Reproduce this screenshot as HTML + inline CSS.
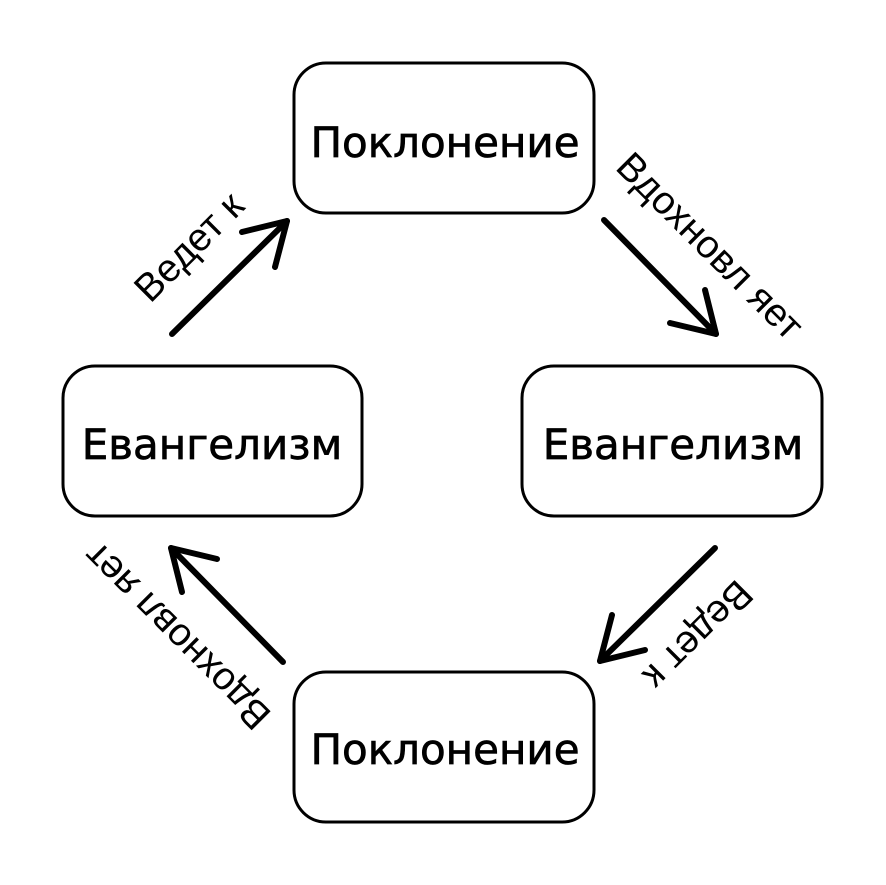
<!DOCTYPE html>
<html><head><meta charset="utf-8"><style>
html,body{margin:0;padding:0;background:#fff;}
svg{display:block;}
text{fill:#000;}
</style></head><body>
<svg width="886" height="885" viewBox="0 0 886 885" xmlns="http://www.w3.org/2000/svg">
<g fill="#fff" stroke="#000" stroke-width="3">
<rect x="294" y="63" width="300" height="150" rx="32"/>
<rect x="522" y="366" width="300" height="150" rx="32"/>
<rect x="63" y="366" width="299" height="150" rx="32"/>
<rect x="294" y="672" width="300" height="150" rx="32"/>
</g>
<g font-size="42" text-anchor="middle" font-family="DejaVu Sans, sans-serif" stroke="#000" stroke-width="0.7">
<text x="445" y="157">Поклонение</text>
<text x="673" y="459">Евангелизм</text>
<text x="212" y="459">Евангелизм</text>
<text x="445" y="764">Поклонение</text>
</g>
<g id="q1">
<g fill="none" stroke="#000" stroke-width="6" stroke-linecap="round" stroke-linejoin="round">
<path d="M172 334 L287 221"/>
<path d="M242 232 L287 221 L275 267"/>
<path d="M604 220 L716 334"/>
<path d="M705 290 L716 334 L670 323"/>
</g>
<g font-family="Liberation Sans, sans-serif" font-size="39" text-anchor="middle">
<text transform="translate(189,247) rotate(-45)" y="13">Ведет к</text>
<text transform="translate(710,246) rotate(45)" y="13">Вдохновл яет</text>
</g>
</g>
<use href="#q1" transform="rotate(180 443.5 441)"/>
</svg>
</body></html>
